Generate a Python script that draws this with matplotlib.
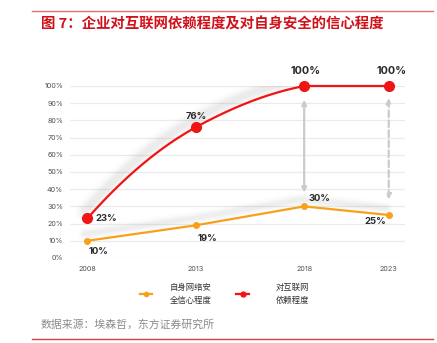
import numpy as np
import matplotlib
matplotlib.use("Agg")
import matplotlib.pyplot as plt
from matplotlib import transforms
from matplotlib.lines import Line2D

years = ["2008", "2013", "2018", "2023"]
dependence = [23, 76, 100, 100]      # 对互联网依赖程度
confidence = [10, 19, 30, 25]        # 自身网络安全信心程度
y_ticks = [0, 10, 20, 30, 40, 50, 60, 70, 80, 90, 100]

title = "图 7：企业对互联网依赖程度及对自身安全的信心程度"
source = "数据来源：埃森哲，东方证券研究所"
legend_conf = "自身网络安\n全信心程度"
legend_dep = "对互联网\n依赖程度"

CJK = ["Noto Sans CJK SC", "DejaVu Sans"]
NUM = ["Inter", "DejaVu Sans"]
RED = "#f01414"
ORANGE = "#f7a11a"
ARROW = "#cbcbcb"

# horizontal placement of the year columns (last interval is shorter)
xpos = np.array([0.0, 1.0, 2.0, 2.78])


def smooth(x, y, xs, tension=0.1):
    """Cardinal-spline style smoothing; flat segments stay straight."""
    x = np.asarray(x, float)
    y = np.asarray(y, float)
    n = len(x)
    h = np.diff(x)
    delta = np.diff(y) / h
    d = np.zeros(n)
    for k in range(1, n - 1):
        d[k] = (1 - tension) * (y[k + 1] - y[k - 1]) / (x[k + 1] - x[k - 1])
    d[0] = 2 * delta[0] - d[1]
    d[-1] = 2 * delta[-1] - d[-2]
    out = np.empty_like(xs)
    for i, xv in enumerate(xs):
        k = int(np.clip(np.searchsorted(x, xv, side="right") - 1, 0, n - 2))
        t = (xv - x[k]) / h[k]
        if delta[k] == 0:
            out[i] = y[k]
            continue
        h00 = 2 * t**3 - 3 * t**2 + 1
        h10 = t**3 - 2 * t**2 + t
        h01 = -2 * t**3 + 3 * t**2
        h11 = t**3 - t**2
        out[i] = h00 * y[k] + h10 * h[k] * d[k] + h01 * y[k + 1] + h11 * h[k] * d[k + 1]
    return out


fig = plt.figure(figsize=(4.37, 3.43), dpi=100)
W, H = 437, 343


def fx(px):
    return px / W


def fy(py):
    return 1 - py / H


# header and footer rules
fig.add_artist(Line2D([fx(32), fx(433)], [fy(11), fy(11)], color="#e07070", lw=1.0))
fig.add_artist(Line2D([fx(32), fx(433)], [fy(339), fy(339)], color="#d04040", lw=1.0))
fig.text(fx(41), fy(25), title, family=CJK, fontsize=10.4, fontweight="bold",
         color="#d0121b", va="center", ha="left")
fig.text(fx(41), fy(325), source, family=CJK, fontsize=7.8, color="#8a8a8a",
         va="center", ha="left")

ax = fig.add_axes([fx(70), fy(258), fx(405) - fx(70), fy(86) - fy(258)])
ax.set_xlim(-0.16, 2.93)
ax.set_ylim(0, 100)
for s in ax.spines.values():
    s.set_visible(False)
ax.set_yticks(y_ticks)
ax.set_yticklabels([f"{v}%" for v in y_ticks], family=NUM, fontsize=5.2, color="#505050")
ax.set_xticks(xpos)
ax.set_xticklabels(years, family=NUM, fontsize=5.2, color="#505050")
ax.tick_params(length=0, pad=5)
ax.tick_params(axis="x", pad=6)
ax.grid(axis="y", color="#ebebeb", lw=0.9)
ax.set_axisbelow(True)

xs = np.linspace(xpos[0], xpos[-1], 300)
ys = smooth(xpos, dependence, xs)

# soft shadows under the lines
for w, a in [(14, 0.025), (10, 0.035), (7, 0.045), (4, 0.05)]:
    tr = transforms.offset_copy(ax.transData, fig=fig, x=-2, y=5, units="points")
    ax.plot(xs, ys, color="#808080", lw=w, alpha=a, solid_capstyle="round",
            transform=tr, zorder=1)
    ax.plot(xpos, confidence, color="#808080", lw=w * 0.7, alpha=a * 0.8,
            solid_capstyle="round", transform=tr, zorder=1)

# double-headed gap arrows
ax.annotate("", xy=(xpos[2], 92), xytext=(xpos[2], 38),
            arrowprops=dict(arrowstyle="<|-|>", color=ARROW, lw=1.6,
                            mutation_scale=7, shrinkA=0, shrinkB=0), zorder=2)
ax.annotate("", xy=(xpos[3], 93), xytext=(xpos[3], 34),
            arrowprops=dict(arrowstyle="<|-|>", color=ARROW, lw=1.6, ls=(0, (3, 1.5)),
                            mutation_scale=7, shrinkA=0, shrinkB=0), zorder=2)

ax.plot(xs, ys, color=RED, lw=1.6, zorder=4, clip_on=False)
ax.plot(xpos, dependence, "o", color=RED, ms=7, zorder=5, clip_on=False)
ax.plot(xpos, confidence, color=ORANGE, lw=1.6, zorder=3, clip_on=False)
ax.plot(xpos, confidence, "o", color=ORANGE, ms=4, zorder=3, clip_on=False)

lab = dict(family=NUM, fontweight="bold", color="#2a2a2a")
ax.annotate(f"{dependence[0]}%", (xpos[0], dependence[0]), xytext=(6, 0),
            textcoords="offset points", ha="left", va="center", fontsize=6.8, **lab)
ax.annotate(f"{dependence[1]}%", (xpos[1], dependence[1]), xytext=(0, 8),
            textcoords="offset points", ha="center", va="center", fontsize=6.8, **lab)
ax.annotate(f"{dependence[2]}%", (xpos[2], dependence[2]), xytext=(1, 11),
            textcoords="offset points", ha="center", va="center", fontsize=7.8, **lab)
ax.annotate(f"{dependence[3]}%", (xpos[3], dependence[3]), xytext=(2, 11),
            textcoords="offset points", ha="center", va="center", fontsize=7.8, **lab)
ax.annotate(f"{confidence[0]}%", (xpos[0], confidence[0]), xytext=(1, -7.5),
            textcoords="offset points", ha="left", va="center", fontsize=6.8, **lab)
ax.annotate(f"{confidence[1]}%", (xpos[1], confidence[1]), xytext=(1.5, -9.5),
            textcoords="offset points", ha="left", va="center", fontsize=6.8, **lab)
ax.annotate(f"{confidence[2]}%", (xpos[2], confidence[2]), xytext=(3, 6),
            textcoords="offset points", ha="left", va="center", fontsize=6.8, **lab)
ax.annotate(f"{confidence[3]}%", (xpos[3], confidence[3]), xytext=(-1.5, -5),
            textcoords="offset points", ha="right", va="center", fontsize=6.8, **lab)

# legend
fig.add_artist(Line2D([fx(140), fx(152)], [fy(294), fy(294)], color=ORANGE, lw=1.6))
fig.add_artist(Line2D([fx(146)], [fy(294)], color=ORANGE, marker="o", ms=3))
fig.text(fx(170), fy(294), legend_conf, family=CJK, fontsize=6, color="#333333",
         va="center", ha="left", linespacing=1.6)
fig.add_artist(Line2D([fx(236), fx(249)], [fy(294), fy(294)], color=RED, lw=1.6))
fig.add_artist(Line2D([fx(242.5)], [fy(294)], color=RED, marker="o", ms=3.5))
fig.text(fx(276), fy(294), legend_dep, family=CJK, fontsize=6, color="#333333",
         va="center", ha="left", linespacing=1.6)

fig.savefig("out.png", dpi=100)
